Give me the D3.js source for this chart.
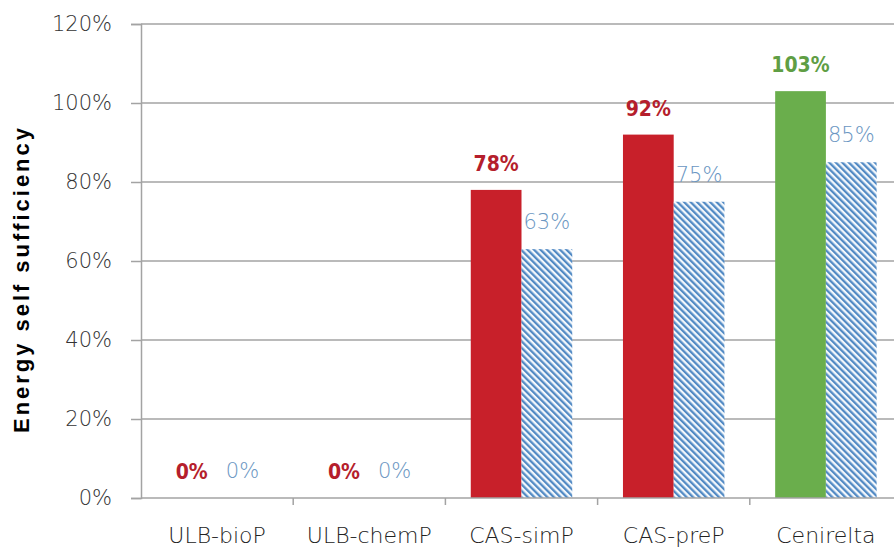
<!DOCTYPE html>
<html>
<head>
<meta charset="utf-8">
<script src="https://cdn.jsdelivr.net/npm/d3@7"></script>
<style>
  html, body { margin: 0; padding: 0; background: #fff; }
  svg { display: block; }
</style>
</head>
<body>
<svg id="chart" width="894" height="549"></svg>
<script>
// Energy self sufficiency per treatment scenario
const categories = ["ULB-bioP", "ULB-chemP", "CAS-simP", "CAS-preP", "Cenirelta"];
const primaryValues = [0, 0, 78, 92, 103];     // solid bars
const secondaryValues = [0, 0, 63, 75, 85];    // hatched bars
const primaryColors = ["#c8202a", "#c8202a", "#c8202a", "#c8202a", "#6aae4c"];
const primaryLabelColors = ["#b51e2c", "#b51e2c", "#b51e2c", "#b51e2c", "#5f9e44"];
const yTicks = [0, 20, 40, 60, 80, 100, 120];

const svg = d3.select("#chart");
const W = 894, H = 549;
const plot = { left: 141, right: 902, top: 24, bottom: 498 };

const x = d3.scaleBand().domain(categories).range([plot.left, plot.right]).paddingInner(0).paddingOuter(0);
const sub = d3.scaleBand().domain(["p", "s"]).range([0, x.bandwidth()]).paddingOuter(0.5).paddingInner(0);
const y = d3.scaleLinear().domain([0, 120]).range([plot.bottom, plot.top]);

// hatch pattern for the secondary series
const defs = svg.append("defs");
const pat = defs.append("pattern")
  .attr("id", "hatch")
  .attr("patternUnits", "userSpaceOnUse")
  .attr("width", 4.6).attr("height", 4.6)
  .attr("patternTransform", "rotate(-45)");
pat.append("rect").attr("width", 4.6).attr("height", 4.6).attr("fill", "#f4f8fc");
pat.append("rect").attr("x", 0).attr("width", 2.3).attr("height", 4.6).attr("fill", "#528ac4");

// horizontal gridlines
svg.append("g").selectAll("line").data(yTicks.filter(d => d > 0)).join("line")
  .attr("x1", plot.left).attr("x2", W)
  .attr("y1", d => y(d)).attr("y2", d => y(d))
  .attr("stroke", "#a3a3a3").attr("stroke-width", 1.5);

// y axis
const yAxis = svg.append("g").attr("transform", `translate(${plot.left},0)`)
  .call(d3.axisLeft(y).tickValues(yTicks).tickFormat(d => d + "%").tickSize(10).tickPadding(19));
yAxis.select(".domain").attr("stroke", "#a3a3a3").attr("stroke-width", 1.5);
yAxis.selectAll(".tick line").attr("stroke", "#a3a3a3").attr("stroke-width", 1.5);
yAxis.selectAll(".tick text")
  .attr("font-family", "'DejaVu Sans', Verdana, sans-serif")
  .attr("font-size", 21).attr("font-weight", 300)
  .attr("fill", "#333");

// bars
const groups = svg.append("g").selectAll("g").data(categories).join("g")
  .attr("transform", d => `translate(${x(d)},0)`);

groups.append("rect")
  .attr("x", sub("p")).attr("width", sub.bandwidth())
  .attr("y", (d, i) => y(primaryValues[i]))
  .attr("height", (d, i) => y(0) - y(primaryValues[i]))
  .attr("fill", (d, i) => primaryColors[i]);

groups.append("rect")
  .attr("x", sub("s")).attr("width", sub.bandwidth())
  .attr("y", (d, i) => y(secondaryValues[i]))
  .attr("height", (d, i) => y(0) - y(secondaryValues[i]))
  .attr("fill", "url(#hatch)");

// value labels
groups.append("text")
  .attr("x", sub("p") + sub.bandwidth() / 2)
  .attr("y", (d, i) => y(primaryValues[i]) - 19)
  .attr("text-anchor", "middle")
  .attr("font-family", "'DejaVu Sans Condensed', 'DejaVu Sans', sans-serif")
  .attr("font-weight", "bold").attr("font-size", 21)
  .attr("fill", (d, i) => primaryLabelColors[i])
  .text((d, i) => primaryValues[i] + "%");

groups.append("text")
  .attr("x", sub("s") + sub.bandwidth() / 2)
  .attr("y", (d, i) => y(secondaryValues[i]) - 20)
  .attr("text-anchor", "middle")
  .attr("font-family", "'DejaVu Sans', sans-serif")
  .attr("font-weight", 200).attr("font-size", 21)
  .attr("fill", "#6a96c2")
  .text((d, i) => secondaryValues[i] + "%");

// x axis
const xAxis = svg.append("g").attr("transform", `translate(0,${plot.bottom})`);
xAxis.append("line").attr("x1", plot.left).attr("x2", W).attr("y1", 0).attr("y2", 0)
  .attr("stroke", "#a3a3a3").attr("stroke-width", 1.5);
xAxis.selectAll("line.tick").data(categories.slice(1)).join("line")
  .attr("class", "tick")
  .attr("x1", d => x(d)).attr("x2", d => x(d)).attr("y1", 0).attr("y2", 7)
  .attr("stroke", "#a3a3a3").attr("stroke-width", 1.5);
xAxis.selectAll("text").data(categories).join("text")
  .attr("x", d => x(d) + x.bandwidth() / 2)
  .attr("y", 45)
  .attr("text-anchor", "middle")
  .attr("font-family", "'DejaVu Sans', Verdana, sans-serif")
  .attr("font-size", 22).attr("font-weight", 300)
  .attr("fill", "#222")
  .text(d => d);

// y axis title
svg.append("text")
  .attr("transform", `translate(29,${(128 + 433) / 2}) rotate(-90)`)
  .attr("text-anchor", "middle")
  .attr("font-family", "'Liberation Sans', Arial, sans-serif")
  .attr("font-weight", "bold").attr("font-size", 22)
  .attr("textLength", 305).attr("lengthAdjust", "spacing")
  .attr("fill", "#000")
  .text("Energy self sufficiency");
</script>
</body>
</html>
